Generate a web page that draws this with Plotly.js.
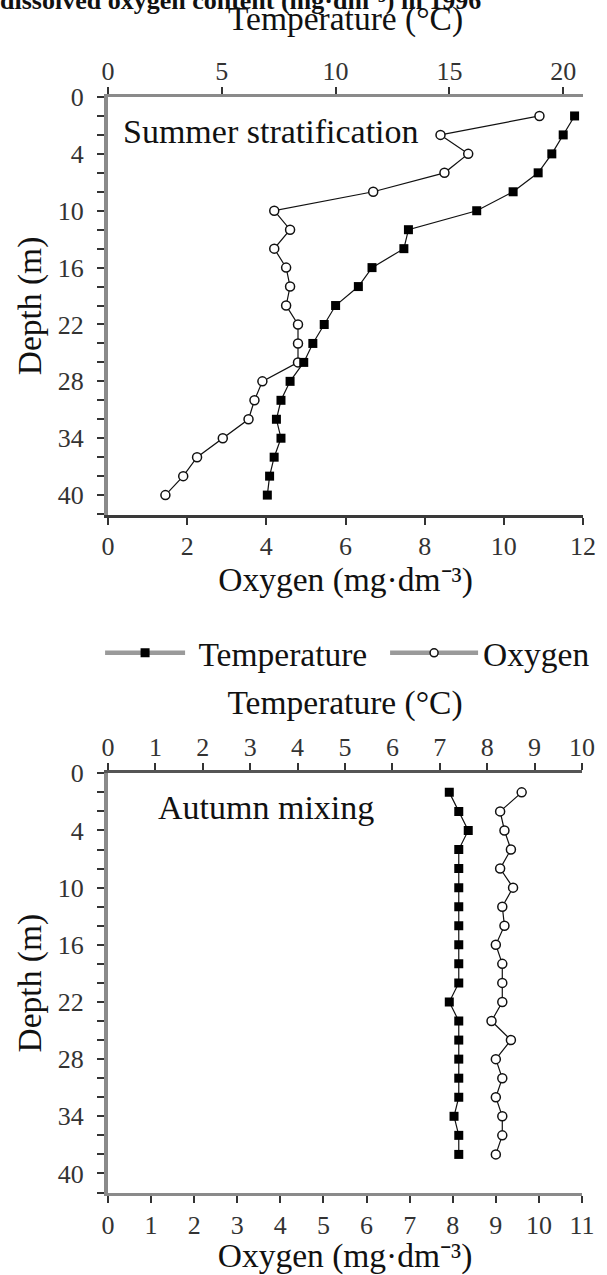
<!DOCTYPE html>
<html><head><meta charset="utf-8">
<script src="https://cdn.plot.ly/plotly-3.0.1.min.js"></script>
<style>html,body{margin:0;padding:0;background:#fff}#chart{width:607px;height:1275px}</style>
</head><body><div id="chart"></div><script>
// ---- data ----
const summerDepth = [0,2,4,6,8,10,12,14,16,18,20,22,24,26,28,30,32,34,36,38,40];
const summerTemperature = [20.5,20.0,19.5,18.9,17.8,16.2,13.2,13.0,11.6,11.0,10.0,9.5,9.0,8.6,8.0,7.6,7.4,7.6,7.3,7.1,7.0];
const summerOxygen = [10.9,8.4,9.1,8.5,6.7,4.2,4.6,4.2,4.5,4.6,4.5,4.8,4.8,4.8,3.9,3.7,3.55,2.9,2.25,1.9,1.45];
const autumnDepth = [0,2,4,6,8,10,12,14,16,18,20,22,24,26,28,30,32,34,36,38];
const autumnTemperature = [7.2,7.4,7.6,7.4,7.4,7.4,7.4,7.4,7.4,7.4,7.4,7.2,7.4,7.4,7.4,7.4,7.4,7.3,7.4,7.4];
const autumnOxygen = [9.6,9.1,9.2,9.35,9.1,9.4,9.15,9.2,9.0,9.15,9.15,9.15,8.9,9.35,9.0,9.15,9.0,9.15,9.15,9.0];
const depthTickVals = [-2,4,10,16,22,28,34,40];
const depthTickText = ['0','4','10','16','22','28','34','40'];
const headerText = 'dissolved oxygen content (mg·dm⁻³) in 1996';
const panelLabels = ['Summer stratification','Autumn mixing'];
const seriesNames = ['Temperature','Oxygen'];
const tempTitle = 'Temperature (°C)';
const oxyTitle = 'Oxygen (mg·dm⁻³)';
const depthTitle = 'Depth (m)';

// ---- page geometry ----
const W = 607, H = 1275;
const M = {l: 108, r: 19, t: 97, b: 82};
const PW = W - M.l - M.r, PH = H - M.t - M.b;
const fx = v => (v - M.l) / PW;          // page px -> paper fraction
const fy = v => (H - M.b - v) / PH;

const SERIF = '"Liberation Serif","Times New Roman",serif';
const tickFont = {family: SERIF, size: 26, color: '#333'};
const titleFont = {family: SERIF, size: 33.5, color: '#111'};

const lineStyle = {color: '#111', width: 1.2};
const sqMarker = {symbol: 'square', size: 9, color: '#000'};
const circMarker = {symbol: 'circle', size: 9, color: '#fff', line: {color: '#111', width: 1.5}};

const traces = [
  {x: summerTemperature, y: summerDepth, xaxis: 'x2', yaxis: 'y', mode: 'lines+markers', line: lineStyle, marker: sqMarker, showlegend: false, name: seriesNames[0]},
  {x: summerOxygen, y: summerDepth, xaxis: 'x', yaxis: 'y', mode: 'lines+markers', line: lineStyle, marker: circMarker, showlegend: false, name: seriesNames[1]},
  {x: autumnTemperature, y: autumnDepth, xaxis: 'x4', yaxis: 'y2', mode: 'lines+markers', line: lineStyle, marker: sqMarker, showlegend: false, name: seriesNames[0]},
  {x: autumnOxygen, y: autumnDepth, xaxis: 'x3', yaxis: 'y2', mode: 'lines+markers', line: lineStyle, marker: circMarker, showlegend: false, name: seriesNames[1]},
  // legend keys, styled like the reference's legend
  {x: [null], y: [null], xaxis: 'x', yaxis: 'y', mode: 'lines+markers', name: '\u00a0' + seriesNames[0], legend: 'legend',
   line: {color: '#9a9a9a', width: 4.5}, marker: {symbol: 'square', size: 9, color: '#000'}},
  {x: [null], y: [null], xaxis: 'x', yaxis: 'y', mode: 'lines+markers', name: seriesNames[1], legend: 'legend2',
   line: {color: '#9a9a9a', width: 4.5}, marker: {symbol: 'circle', size: 8, color: '#fff', line: {color: '#111', width: 1.5}}}
];

function xAx(domain, range, dtick, side, lineColor, anchor, overlay, title, standoff, tls) {
  const a = {
    domain: domain, range: range, dtick: dtick, tick0: 0, side: side, anchor: anchor,
    showline: true, linecolor: lineColor, linewidth: 3, mirror: false,
    ticks: 'outside', ticklen: 7, tickwidth: 2, tickcolor: '#333',
    showgrid: false, zeroline: false, tickfont: tickFont, ticklabelstandoff: tls,
    title: {text: title, font: titleFont, standoff: standoff}, automargin: 'left', fixedrange: true
  };
  if (overlay) a.overlaying = overlay;
  return a;
}
function yAx(domain, range, anchor) {
  return {
    domain: domain, range: range, anchor: anchor,
    tickmode: 'array', tickvals: depthTickVals, ticktext: depthTickText,
    showline: true, linecolor: '#8a8a8a', linewidth: 4,
    ticks: 'outside', ticklen: 7, tickwidth: 2, tickcolor: '#333',
    minor: {dtick: 2, tick0: 0, ticks: 'outside', ticklen: 7, tickwidth: 2, tickcolor: '#333'},
    showgrid: false, zeroline: false, tickfont: tickFont, ticklabelstandoff: 8,
    title: {text: depthTitle, font: titleFont, standoff: 7}, automargin: 'top', fixedrange: true
  };
}

const d1x = [0, 1], d1y = [fy(515), 1];
const d2x = [0, fx(587)], d2y = [0, fy(773.3)];
const legendFont = {family: SERIF, size: 33.5, color: '#111'};

const layout = {
  width: W, height: H, margin: M,
  paper_bgcolor: '#fff', plot_bgcolor: 'rgba(0,0,0,0)',
  font: {family: SERIF, color: '#111'},
  xaxis: xAx(d1x, [0, 12], 2, 'bottom', '#3a3a3a', 'y', null, oxyTitle, 0, -1),
  xaxis2: xAx(d1x, [0, 20.87], 5, 'top', '#8a8a8a', 'y', 'x', tempTitle, 17, -3),
  yaxis: yAx(d1y, [42.1, -2], 'x'),
  xaxis3: xAx(d2x, [0, 11], 1, 'bottom', '#8a8a8a', 'y2', null, oxyTitle, 3, 0),
  xaxis4: xAx(d2x, [0, 10], 1, 'top', '#555', 'y2', 'x3', tempTitle, 9, -3),
  yaxis2: yAx(d2y, [42.05, -2], 'x3'),
  showlegend: true,
  legend: {orientation: 'h', x: fx(100), y: fy(653), xanchor: 'left', yanchor: 'middle',
           font: legendFont, itemwidth: 80, bgcolor: 'rgba(0,0,0,0)'},
  legend2: {orientation: 'h', x: fx(388), y: fy(653), xanchor: 'left', yanchor: 'middle',
           font: legendFont, itemwidth: 88, bgcolor: 'rgba(0,0,0,0)'},
  annotations: [
    {text: panelLabels[0], xref: 'paper', yref: 'paper', x: fx(121), y: fy(131), xanchor: 'left', yanchor: 'middle', showarrow: false, font: {family: SERIF, size: 34, color: '#111'}},
    {text: panelLabels[1], xref: 'paper', yref: 'paper', x: fx(156), y: fy(807), xanchor: 'left', yanchor: 'middle', showarrow: false, font: {family: SERIF, size: 34, color: '#111'}},
    {text: '<b>' + headerText + '</b>', xref: 'paper', yref: 'paper', x: fx(-3), y: fy(17), xanchor: 'left', yanchor: 'bottom', showarrow: false, font: {family: SERIF, size: 26, color: '#111'}}
  ]
};

Plotly.newPlot('chart', traces, layout, {displayModeBar: false, staticPlot: true});
</script></body></html>
